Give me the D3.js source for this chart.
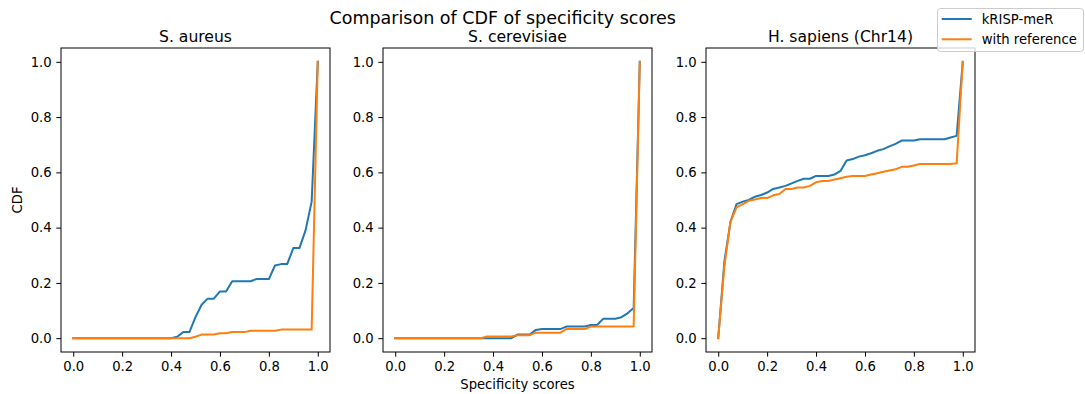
<!DOCTYPE html>
<html>
<head>
<meta charset="utf-8">
<script src="https://cdn.jsdelivr.net/npm/d3@7"></script>
<style>
    body { margin: 0; background: #fff; }
    svg { font-family: "DejaVu Sans", sans-serif; display: block; }
</style>
</head>
<body>
<div id="chart"></div>
<script>

// specificity score grid (x values shared by all curves)
const scores = [0, 0.025, 0.05, 0.075, 0.1, 0.125, 0.15, 0.175, 0.2, 0.225,
    0.25, 0.275, 0.3, 0.325, 0.35, 0.375, 0.4, 0.425, 0.45, 0.475,
    0.5, 0.525, 0.55, 0.575, 0.6, 0.625, 0.65, 0.675, 0.7, 0.725,
    0.75, 0.775, 0.8, 0.825, 0.85, 0.875, 0.9, 0.925, 0.95, 0.975, 1.0];

const panelTitles = ["S. aureus", "S. cerevisiae", "H. sapiens (Chr14)"];
const seriesNames = ["kRISP-meR", "with reference"];
const xTicks = [0, 0.2, 0.4, 0.6, 0.8, 1.0];
const yTicks = [0, 0.2, 0.4, 0.6, 0.8, 1.0];

const aureusKrisp = [0, 0, 0, 0, 0, 0, 0, 0, 0, 0, 0, 0, 0, 0, 0, 0, 0,
    0.005, 0.022, 0.022, 0.076, 0.121, 0.143, 0.143, 0.169, 0.169, 0.206, 0.206, 0.206, 0.206,
    0.214, 0.214, 0.214, 0.263, 0.268, 0.268, 0.326, 0.326, 0.39, 0.494, 1.0];
const aureusRef = [0, 0, 0, 0, 0, 0, 0, 0, 0, 0, 0, 0, 0, 0, 0, 0, 0, 0, 0, 0,
    0.005, 0.013, 0.013, 0.013, 0.018, 0.018, 0.022, 0.022, 0.022,
    0.027, 0.027, 0.027, 0.027, 0.027, 0.031, 0.031, 0.031, 0.031, 0.031, 0.031, 1.0];

const cerevisiaeKrisp = [0, 0, 0, 0, 0, 0, 0, 0, 0, 0, 0, 0, 0, 0, 0, 0, 0, 0, 0, 0,
    0.013, 0.013, 0.013, 0.03, 0.033, 0.033, 0.033, 0.033, 0.042, 0.042, 0.042, 0.042,
    0.048, 0.048, 0.07, 0.07, 0.07, 0.076, 0.09, 0.109, 1.0];
const cerevisiaeRef = [0, 0, 0, 0, 0, 0, 0, 0, 0, 0, 0, 0, 0, 0, 0,
    0.006, 0.006, 0.006, 0.006, 0.006, 0.011, 0.011, 0.011, 0.02, 0.02, 0.02, 0.02, 0.02,
    0.033, 0.033, 0.033, 0.033, 0.042, 0.042, 0.042, 0.042, 0.042, 0.042, 0.042, 0.042, 1.0];

const sapiensKrisp = [0, 0.276, 0.421, 0.485, 0.494, 0.5, 0.512, 0.518, 0.527, 0.54,
    0.545, 0.551, 0.56, 0.569, 0.577, 0.577, 0.587, 0.587, 0.587, 0.592,
    0.605, 0.643, 0.648, 0.657, 0.662, 0.669, 0.678, 0.684, 0.694, 0.703,
    0.715, 0.715, 0.715, 0.72, 0.72, 0.72, 0.72, 0.72, 0.726, 0.732, 1.0];
const sapiensRef = [0, 0.258, 0.421, 0.473, 0.485, 0.497, 0.502, 0.507, 0.507, 0.517,
    0.522, 0.54, 0.54, 0.545, 0.545, 0.551, 0.564, 0.569, 0.569, 0.574,
    0.579, 0.584, 0.587, 0.587, 0.587, 0.592, 0.597, 0.602, 0.607, 0.611,
    0.62, 0.62, 0.625, 0.63, 0.63, 0.63, 0.63, 0.63, 0.63, 0.633, 1.0];

const panelSeries = [
    [aureusKrisp, aureusRef],
    [cerevisiaeKrisp, cerevisiaeRef],
    [sapiensKrisp, sapiensRef]
];

const colors = ["#1f77b4", "#ff7f0e"];


class CdfPanel {

    constructor(svg, left, title, series, showYLabel, showXLabel) {
        this.svg = svg;
        this.left = left;
        this.title = title;
        this.series = series;
        this.showYLabel = showYLabel;
        this.showXLabel = showXLabel;

        this.initVis();
    }

    initVis() {
        let vis = this;

        vis.width = 269;
        vis.top = 48;
        vis.bottom = 352;

        vis.x = d3.scaleLinear().domain([-0.05, 1.05]).range([vis.left, vis.left + vis.width]);
        vis.y = d3.scaleLinear().domain([-0.05, 1.05]).range([vis.bottom, vis.top]);

        vis.g = vis.svg.append("g");

        vis.updateVis();
    }

    updateVis() {
        let vis = this;

        // axes
        let xAxis = d3.axisBottom(vis.x).tickValues(xTicks).tickFormat(d3.format(".1f"))
            .tickSize(4.7).tickPadding(4.5).tickSizeOuter(0);
        let yAxis = d3.axisLeft(vis.y).tickValues(yTicks).tickFormat(d3.format(".1f"))
            .tickSize(4.7).tickPadding(4.7).tickSizeOuter(0);

        let gx = vis.g.append("g")
            .attr("transform", `translate(0,${vis.bottom})`)
            .call(xAxis);
        let gy = vis.g.append("g")
            .attr("transform", `translate(${vis.left},0)`)
            .call(yAxis);

        [gx, gy].forEach(a => {
            a.select(".domain").remove();
            a.selectAll("text").attr("font-size", 13.2).attr("fill", "#000")
                .attr("font-family", "DejaVu Sans");
            a.selectAll("line").attr("stroke", "#000").attr("stroke-width", 1);
        });

        // curves
        let line = d3.line()
            .x((d, i) => vis.x(scores[i]))
            .y(d => vis.y(d));

        vis.series.forEach((s, k) => {
            vis.g.append("path")
                .datum(s)
                .attr("d", line)
                .attr("fill", "none")
                .attr("stroke", colors[k])
                .attr("stroke-width", 2)
                .attr("stroke-linejoin", "round")
                .attr("stroke-linecap", "square");
        });

        // frame
        vis.g.append("rect")
            .attr("x", vis.left)
            .attr("y", vis.top)
            .attr("width", vis.width)
            .attr("height", vis.bottom - vis.top)
            .attr("fill", "none")
            .attr("stroke", "#000")
            .attr("stroke-width", 1);

        vis.g.append("text")
            .attr("x", vis.left + vis.width / 2)
            .attr("y", 41.5)
            .attr("text-anchor", "middle")
            .attr("font-size", 15.6)
            .text(vis.title);

        if (vis.showYLabel) {
            vis.g.append("text")
                .attr("transform", `translate(21.5,${(vis.top + vis.bottom) / 2}) rotate(-90)`)
                .attr("text-anchor", "middle")
                .attr("font-size", 13.2)
                .text("CDF");
        }
        if (vis.showXLabel) {
            vis.g.append("text")
                .attr("x", vis.left + vis.width / 2)
                .attr("y", 388.5)
                .attr("text-anchor", "middle")
                .attr("font-size", 13.2)
                .text("Specificity scores");
        }
    }
}


let svg = d3.select("#chart")
    .append("svg")
    .attr("width", 1085)
    .attr("height", 394);

svg.append("rect").attr("width", 1085).attr("height", 394).attr("fill", "#fff");

svg.append("text")
    .attr("x", 502.7)
    .attr("y", 24)
    .attr("text-anchor", "middle")
    .attr("font-size", 17.5)
    .text("Comparison of CDF of specificity scores");

let lefts = [61, 383, 706];
panelTitles.forEach((t, i) => {
    new CdfPanel(svg, lefts[i], t, panelSeries[i], i === 0, i === 1);
});

// legend
let legend = svg.append("g");
legend.append("rect")
    .attr("x", 937.5)
    .attr("y", 8.5)
    .attr("width", 146)
    .attr("height", 43)
    .attr("rx", 3)
    .attr("fill", "#fff")
    .attr("fill-opacity", 0.8)
    .attr("stroke", "#cccccc")
    .attr("stroke-width", 1);

seriesNames.forEach((name, i) => {
    let yy = 19 + i * 20.3;
    legend.append("line")
        .attr("x1", 941.7).attr("x2", 971.7)
        .attr("y1", yy).attr("y2", yy)
        .attr("stroke", colors[i])
        .attr("stroke-width", 2);
    legend.append("text")
        .attr("x", 981.7)
        .attr("y", yy)
        .attr("dy", "0.35em")
        .attr("font-size", 13.2)
        .text(name);
});

</script>
</body>
</html>
